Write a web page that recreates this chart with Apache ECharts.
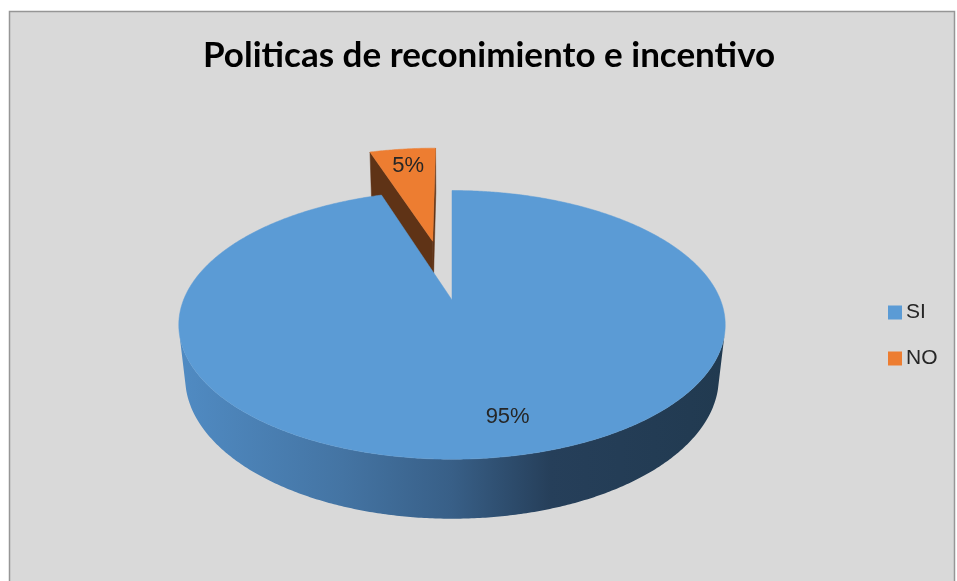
<!DOCTYPE html>
<html><head><meta charset="utf-8">
<script src="https://cdn.jsdelivr.net/npm/echarts@6/dist/echarts.min.js"></script>
<style>html,body{margin:0;padding:0;background:#fff}#c{width:957px;height:581px}</style>
</head><body><div id="c"></div>
<script>
// ---- data ----
const titleText = 'Politicas de reconimiento e incentivo';
const categories = ['SI', 'NO'];
const values = [95, 5];

// ---- styles ----
const topColors = ['#5b9bd5', '#ed7d31'];
const wallColors = ['#3a6a99', '#5f3316'];
const sideStops = [
  [['0', '#508bc3'], ['0.3', '#4474a3'], ['0.5', '#385f87'], ['0.68', '#263f5a'], ['1', '#213a50']],
  [['0', '#b8612a'], ['1', '#6a3814']]
];
const EXPLODE = [0, 0.5];
const LABEL_ANGLE_SHIFT = [-4, 0];

// ---- 3D view ----
const CX = 452, CY = 300, F = 1270, PHI = 28.9 * Math.PI / 180, DIST = 4.73, DEPTH = 0.228, LABEL_R = 0.79;
const S = Math.sin(PHI), C = Math.cos(PHI);
const CAM = [0, -DIST * C, DIST * S];
const rad = d => d * Math.PI / 180;
function proj(X, Z, H) {
  const u = Z * S + H * C;
  const w = Z * C - H * S + DIST;
  return [CX + F * X / w, CY - F * u / w];
}
const total = values.reduce((a, b) => a + b, 0);

function renderSlice(idx, api) {
  const v = api.value(0);
  let before = 0;
  for (let k = 0; k < idx; k++) before += values[k];
  const a0 = 360 * before / total, a1 = a0 + 360 * v / total, am = (a0 + a1) / 2;
  const ox = EXPLODE[idx] * Math.sin(rad(am)), oz = EXPLODE[idx] * Math.cos(rad(am));
  const children = [];
  const steps = Math.max(2, Math.ceil((a1 - a0) / 0.5));
  const ang = [];
  for (let s = 0; s <= steps; s++) ang.push(a0 + (a1 - a0) * s / steps);

  // radial walls
  [[a0, -1], [a1, 1]].forEach(([a, dir]) => {
    const sx = Math.sin(rad(a)), sz = Math.cos(rad(a));
    const n = dir < 0 ? [-sz, sx] : [sz, -sx];
    const pm = [ox + 0.5 * sx, oz + 0.5 * sz, -DEPTH / 2];
    const dot = n[0] * (CAM[0] - pm[0]) + n[1] * (CAM[1] - pm[1]);
    if (dot > 0 && (a1 - a0) < 360) {
      children.push({
        type: 'polygon', z2: 1,
        shape: { points: [proj(ox, oz, 0), proj(ox + sx, oz + sz, 0), proj(ox + sx, oz + sz, -DEPTH), proj(ox, oz, -DEPTH)] },
        style: { fill: wallColors[idx], stroke: wallColors[idx], lineWidth: 0.5 }
      });
    }
  });

  // outer side wall (visible portions)
  const visible = a => {
    const sx = Math.sin(rad(a)), sz = Math.cos(rad(a));
    return -1 - ox * sx - sz * (-CAM[1] + oz) > 0;
  };
  let run = [];
  const flush = () => {
    if (run.length > 1) {
      const pts = [];
      run.forEach(a => pts.push(proj(ox + Math.sin(rad(a)), oz + Math.cos(rad(a)), 0)));
      for (let k = run.length - 1; k >= 0; k--) pts.push(proj(ox + Math.sin(rad(run[k])), oz + Math.cos(rad(run[k])), -DEPTH));
      children.push({
        type: 'polygon', z2: 2,
        shape: { points: pts },
        style: {
          fill: new echarts.graphic.LinearGradient(179, 0, 725, 0,
            sideStops[idx].map(s => ({ offset: +s[0], color: s[1] })), true)
        }
      });
    }
    run = [];
  };
  ang.forEach(a => { if (visible(a)) run.push(a); else flush(); });
  flush();

  // top face
  const topPts = [proj(ox, oz, 0)];
  ang.forEach(a => topPts.push(proj(ox + Math.sin(rad(a)), oz + Math.cos(rad(a)), 0)));
  children.push({
    type: 'polygon', z2: 3,
    shape: { points: topPts },
    style: { fill: topColors[idx], stroke: topColors[idx], lineWidth: 0.5 }
  });

  // label
  const la = am + LABEL_ANGLE_SHIFT[idx];
  const lp = proj(ox + LABEL_R * Math.sin(rad(la)), oz + LABEL_R * Math.cos(rad(la)), 0);
  children.push({
    type: 'text', z2: 4,
    style: {
      text: Math.round(v / total * 100) + '%',
      x: lp[0], y: lp[1], align: 'center', verticalAlign: 'middle',
      fill: '#262626', fontSize: 22, fontFamily: 'Liberation Sans'
    }
  });
  return { type: 'group', children };
}

const chart = echarts.init(document.getElementById('c'), null, { renderer: 'canvas' });
chart.setOption({
  animation: false,
  backgroundColor: '#ffffff',
  graphic: [{
    type: 'rect', z: -10, silent: true,
    shape: { x: 9.5, y: 11.5, width: 945, height: 580 },
    style: { fill: '#d9d9d9', stroke: '#969696', lineWidth: 1.5 }
  }],
  title: {
    text: titleText, left: 198, top: 33,
    textStyle: { fontFamily: 'Lato', fontWeight: 'bold', fontSize: 35, color: '#000000' }
  },
  legend: {
    data: categories, orient: 'vertical', left: 883, top: 297,
    icon: 'rect', itemWidth: 14, itemHeight: 14, itemGap: 25,
    textStyle: { fontFamily: 'Liberation Sans', fontSize: 21, color: '#262626', padding: [0, 0, 0, -1] }
  },
  series: categories.map((name, i) => ({
    type: 'custom', name, coordinateSystem: 'none',
    z: 10 - i,
    itemStyle: { color: topColors[i] },
    data: [[values[i]]],
    renderItem: (params, api) => renderSlice(i, api)
  }))
});
</script></body></html>
